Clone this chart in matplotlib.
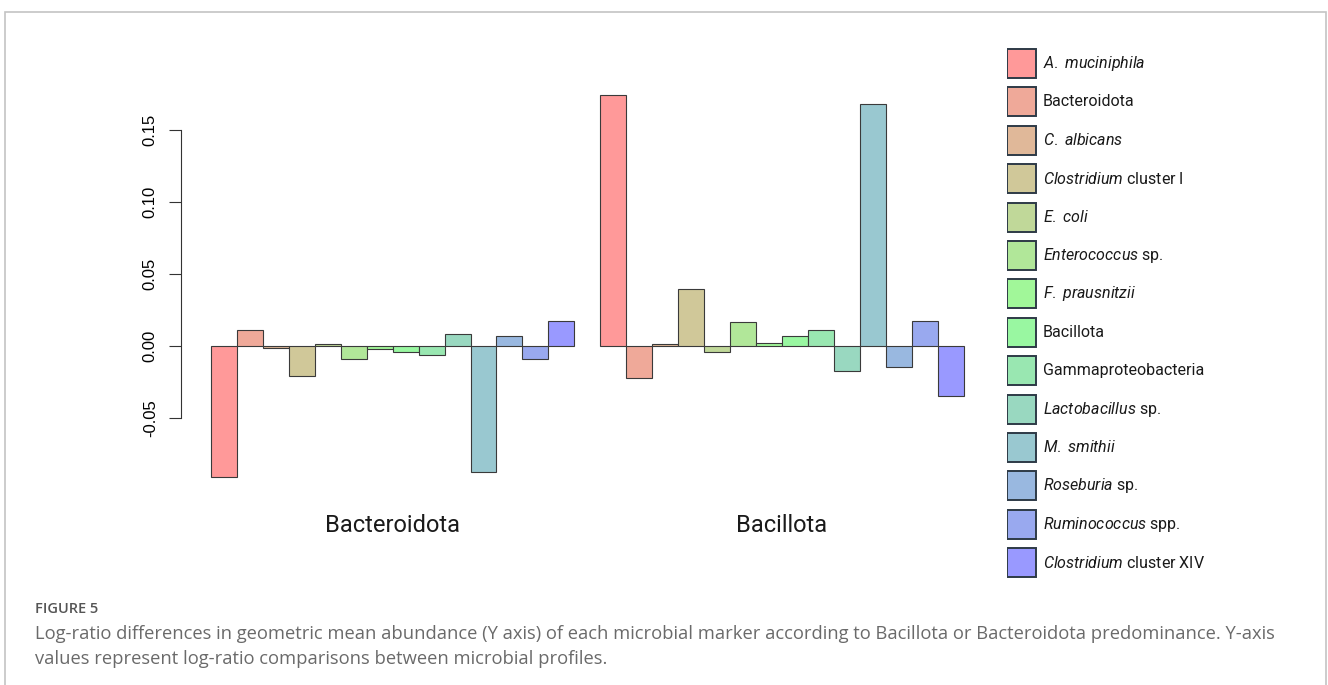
import matplotlib
matplotlib.use("Agg")
import matplotlib.pyplot as plt
from matplotlib.patches import Rectangle
import numpy as np

# data
groups = ["Bacteroidota", "Bacillota"]
markers = [r"$\mathit{A.}$ $\mathit{muciniphila}$", "Bacteroidota", r"$\mathit{C.}$ $\mathit{albicans}$",
           r"$\mathit{Clostridium}$ cluster I", r"$\mathit{E.}$ $\mathit{coli}$",
           r"$\mathit{Enterococcus}$ sp.", r"$\mathit{F.}$ $\mathit{prausnitzii}$", "Bacillota",
           "Gammaproteobacteria", r"$\mathit{Lactobacillus}$ sp.", r"$\mathit{M.}$ $\mathit{smithii}$",
           r"$\mathit{Roseburia}$ sp.", r"$\mathit{Ruminococcus}$ spp.",
           r"$\mathit{Clostridium}$ cluster XIV"]
bacteroidota = [-0.0907, 0.0109, -0.0012, -0.0208, 0.0016, -0.0092, -0.0019,
                -0.0044, -0.0060, 0.0081, -0.0875, 0.0069, -0.0092, 0.0174]
bacillota = [0.1741, -0.0220, 0.0012, 0.0396, -0.0044, 0.0164, 0.0023,
             0.0072, 0.0109, -0.0174, 0.1683, -0.0146, 0.0174, -0.0347]
yticks = [-0.05, 0.00, 0.05, 0.10, 0.15]

font = "Roboto"
plt.rcParams["mathtext.fontset"] = "custom"
plt.rcParams["mathtext.rm"] = font
plt.rcParams["mathtext.it"] = font + ":italic"

# red -> green -> blue ramp, 40% opacity on white (like R adjustcolor)
n = len(markers)
t = np.linspace(0, 1, n)
r = np.clip(1 - 2 * t, 0, 1)
b = np.clip(2 * t - 1, 0, 1)
g = 1 - r - b
colors = 0.4 * np.stack([r, g, b], axis=1) + 0.6

fig = plt.figure(figsize=(13.28, 6.85), dpi=100)
W, H = 1328, 685

# light outer frame
fig.add_artist(Rectangle((4.5 / W, -0.1), (1326 - 4.5) / W, 1.1 - 12.5 / H,
                         transform=fig.transFigure, fill=False,
                         edgecolor="#c4c4c4", linewidth=1.2))

ax = fig.add_axes([180.9 / W, 1 - 492 / H, (993.7 - 180.9) / W, (492 - 80) / H])

for gi, vals in enumerate([bacteroidota, bacillota]):
    x = 1 + gi * (n + 1) + np.arange(n)
    ax.bar(x, vals, width=1, align="edge", color=colors,
           edgecolor="#3a3a3a", linewidth=0.8)

ax.set_xlim(-0.16, 31.16)
ax.set_ylim(-0.1013, 0.1847)

for s in ["top", "right", "bottom"]:
    ax.spines[s].set_visible(False)
ax.spines["left"].set_bounds(yticks[0], yticks[-1])
ax.spines["left"].set_color("#333333")
ax.set_yticks(yticks)
ax.set_yticklabels(["%.2f" % v for v in yticks], rotation=90, va="center",
                   fontsize=12, family="Liberation Sans")
ax.tick_params(axis="y", length=8.6, width=0.8, pad=8, color="#333333")

centers = [1 + gi * (n + 1) + n / 2 for gi in range(len(groups))]
ax.set_xticks(centers)
ax.set_xticklabels(groups, fontsize=17, family=font, color="#1a1a1a")
ax.tick_params(axis="x", length=0, pad=16)

# legend drawn row by row (box + label)
leg = fig.add_axes([1007 / W, 1 - 581.9 / H, 313 / W, (581.9 - 44.3) / H])
leg.set_xlim(0, 313)
leg.set_ylim(n - 0.5, -0.5)
leg.axis("off")
for i, (c, lab) in enumerate(zip(colors, markers)):
    leg.add_patch(Rectangle((0, i - 0.378), 29, 0.755, facecolor=c,
                            edgecolor="#2e3a46", linewidth=1.4))
    leg.text(36, i, lab, fontsize=11.5, family=font, va="center", color="#1a1a1a")

fig.text(35 / W, 1 - 613 / H, "FIGURE 5", fontsize=10.5, fontweight="semibold",
         family="Open Sans", color="#555555", va="baseline")
fig.text(35 / W, 1 - 639 / H,
         "Log-ratio differences in geometric mean abundance (Y axis) of each microbial "
         "marker according to Bacillota or Bacteroidota predominance. Y-axis",
         fontsize=13.2, family="Open Sans", color="#6a6a6a", va="baseline")
fig.text(35 / W, 1 - 664 / H,
         "values represent log-ratio comparisons between microbial profiles.",
         fontsize=13.2, family="Open Sans", color="#6a6a6a", va="baseline")

fig.savefig("out.png", dpi=100, facecolor="white")
